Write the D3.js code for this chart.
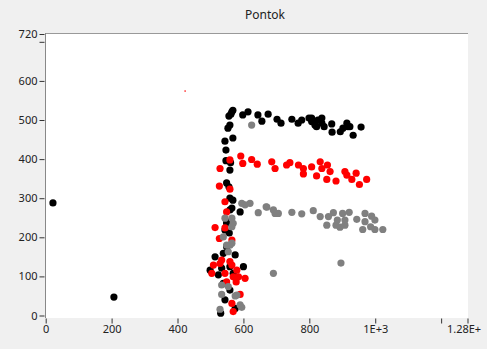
<!DOCTYPE html>
<html>
<head>
<meta charset="utf-8">
<script src="https://cdn.jsdelivr.net/npm/d3@7"></script>
<style>
  body { margin: 0; background: #f0f0f0; }
  svg { display: block; }
  text { font-family: "Noto Sans", "Open Sans", sans-serif; fill: #222; }
</style>
</head>
<body>
<div id="chart"></div>
<script>
// chart values
var title = "Pontok";

var xTicks = [0, 200, 400, 600, 800, 1000, 1200, 1280];
var xTickLabels = ["0", "200", "400", "600", "800", "1E+3", "", "1.28E+"];
var yTicks = [0, 100, 200, 300, 400, 500, 600, 700, 720];
var yTickLabels = ["0", "100", "200", "300", "400", "500", "600", "", "720"];

// [x, y] pairs
var blackPoints = [
  [565,521],[568,525],[556,510],[562,515],[598,513],[614,521],[644,513],[656,497],[675,515],
  [702,502],[714,492],[747,502],[766,492],[777,500],[799,505],[807,496],[817,487],[826,500],
  [838,492],[845,483],[868,490],[869,469],[902,479],[914,492],[917,483],[933,461],[957,482],
  [822,483],[894,470],[923,483],[838,505],[807,505],
  [559,487],[553,479],[544,446],[568,454],[547,423],[547,396],[561,391],[559,372],[549,339],
  [556,329],[559,300],[568,295],[565,275],[590,265],[549,240],[557,211],[559,270],[549,236],
  [544,219],[549,176],[514,150],[539,159],[575,155],[499,116],[534,121],[524,104],[559,125],
  [600,125],[569,108],[539,82],[559,65],[544,40],[531,6],[575,18],
  [22,288],[207,47]
];
var redPoints = [
  [514,225],[544,224],[527,197],[565,193],[509,129],[529,133],[565,129],[504,108],[544,108],
  [580,116],[549,86],[569,99],[585,99],[605,95],[578,86],[565,31],[590,54],[569,10],[559,138],
  [534,142],[549,265],[529,376],[559,398],[527,331],[559,323],[544,291],
  [592,408],[598,389],[625,399],[642,387],[686,393],[696,376],[731,385],[741,391],[767,385],
  [782,376],[782,362],[807,380],[822,357],[833,393],[838,376],[855,385],[863,368],[853,348],
  [881,344],[908,368],[914,359],[929,348],[942,364],[952,335],[974,348]
];
var redSmallPoints = [[423,574]];
var grayPoints = [
  [625,487],[595,287],[620,287],[605,283],[645,263],[671,277],[696,261],[669,278],[691,270],
  [706,261],[747,264],[777,260],[812,268],[833,253],[853,231],[858,253],[873,263],[881,231],
  [885,244],[893,226],[901,261],[908,244],[921,264],[908,231],[944,246],[962,220],[969,261],
  [969,240],[989,254],[999,244],[986,227],[999,220],[1023,220],
  [544,249],[565,249],[539,201],[549,180],[565,185],[559,180],[554,163],[569,236],[565,227],
  [554,74],[580,52],[590,27],[595,21],[534,54],[529,16],[534,78],[575,50],
  [691,108],[896,134]
];

var width = 487, height = 349;
var plot = {left: 45, right: 468, top: 33, bottom: 318};

var svg = d3.select("#chart")
    .append("svg")
    .attr("width", width)
    .attr("height", height);

var x = d3.scaleLinear().domain([0, 1280]).range([45.7, 467.5]);
var y = d3.scaleLinear().domain([0, 720]).range([315.5, 34]);

// plot background
svg.append("rect")
    .attr("x", plot.left).attr("y", plot.top)
    .attr("width", plot.right - plot.left).attr("height", plot.bottom - plot.top)
    .attr("fill", "#fff");

svg.append("line")
    .attr("x1", plot.left).attr("x2", plot.right)
    .attr("y1", plot.top + 0.5).attr("y2", plot.top + 0.5)
    .attr("stroke", "#999");
svg.append("line")
    .attr("x1", plot.left + 0.5).attr("x2", plot.left + 0.5)
    .attr("y1", plot.top).attr("y2", plot.bottom)
    .attr("stroke", "#888");

// title
svg.append("text")
    .attr("x", 265).attr("y", 19)
    .attr("text-anchor", "middle")
    .style("font-size", "12px")
    .text(title);

// axes
var xAxis = svg.append("g")
    .attr("transform", `translate(0, ${plot.bottom + 0.5})`)
    .call(d3.axisBottom(x)
        .tickValues(xTicks)
        .tickFormat((d, i) => xTickLabels[i])
        .tickSize(5)
        .tickPadding(2));
xAxis.select(".domain").remove();
// last label sits a bit left of its tick, like the original
xAxis.selectAll(".tick text").filter(d => d === 1280).attr("dx", -4);

var yAxis = svg.append("g")
    .attr("transform", `translate(${plot.left - 0.5}, 0)`)
    .call(d3.axisLeft(y)
        .tickValues(yTicks)
        .tickFormat((d, i) => yTickLabels[i])
        .tickSize(5)
        .tickPadding(2));
yAxis.select(".domain").remove();

svg.selectAll(".tick line").attr("stroke", "#333");
svg.selectAll(".tick text")
    .style("font-family", "'Noto Sans', sans-serif")
    .style("font-size", "11px")
    .attr("fill", "#222");

// points
function drawPoints(data, color, r) {
  svg.append("g")
      .selectAll("circle")
      .data(data)
      .join("circle")
      .attr("cx", d => x(d[0]))
      .attr("cy", d => y(d[1]))
      .attr("r", r)
      .attr("fill", color);
}
drawPoints(blackPoints, "#000", 3.6);
drawPoints(redPoints, "#f00", 3.6);
drawPoints(redSmallPoints, "#f00", 0.8);
drawPoints(grayPoints, "#808080", 3.6);
</script>
</body>
</html>
